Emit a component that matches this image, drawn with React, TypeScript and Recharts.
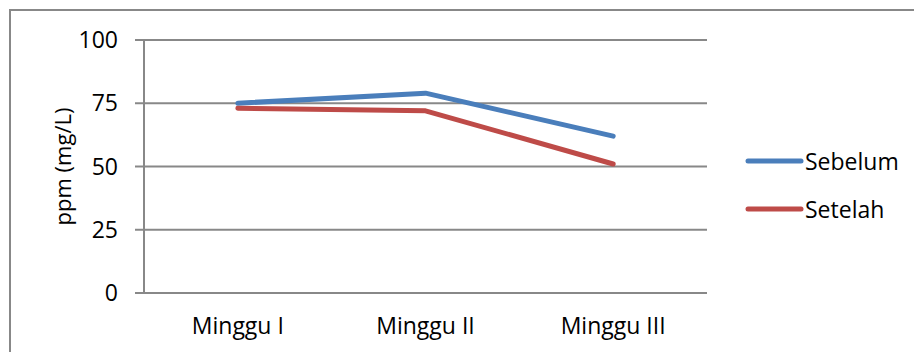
import React from 'react';
import { LineChart, Line, XAxis, YAxis, CartesianGrid, Legend } from 'recharts';

const categories = ['Minggu I', 'Minggu II', 'Minggu III'];
const sebelum = [75, 79, 62];
const setelah = [73, 72, 51];
const yTicks = [0, 25, 50, 75, 100];
const edgeTicks = [0, 1, 2, 3];

const SERIES = [
    { key: 'Sebelum', color: '#4A7EBB', values: sebelum },
    { key: 'Setelah', color: '#BE4B48', values: setelah },
];

const AXIS_GRAY = '#888888';
const FONT = '"Open Sans", sans-serif';
const FONT_SIZE = 23;

// category centres sit halfway between the edge ticks, Excel style
const chartData = categories.map((name, i) => {
    const row: Record<string, number | string> = { pos: i + 0.5, name };
    SERIES.forEach(s => {
        row[s.key] = s.values[i];
    });
    return row;
});

const YTitle: React.FC<any> = ({ viewBox }) => {
    const cy = viewBox.y + viewBox.height / 2;
    return (
        <text
            x={62}
            y={cy}
            transform={`rotate(-90 62 ${cy})`}
            textAnchor="middle"
            dominantBaseline="central"
            fontFamily={FONT}
            fontSize={22}
            fill="#000"
        >
            ppm (mg/L)
        </text>
    );
};

const SideLegend: React.FC<any> = () => (
    <svg width={170} height={80}>
        {SERIES.map((s, i) => (
            <g key={s.key}>
                <line x1={3} x2={56} y1={16 + i * 48} y2={16 + i * 48} stroke={s.color} strokeWidth={5} strokeLinecap="round" />
                <text x={60} y={16 + i * 48} dominantBaseline="central" fontFamily={FONT} fontSize={FONT_SIZE} fill="#000">
                    {s.key}
                </text>
            </g>
        ))}
    </svg>
);

const App: React.FC = () => {
    return (
        <div style={{ position: 'absolute', left: 0, top: 0, width: 914, height: 352, background: '#fff', overflow: 'hidden' }}>
            <div style={{ position: 'absolute', left: 9, top: 9, width: 940, height: 380, border: `2px solid ${AXIS_GRAY}` }} />
            <LineChart width={914} height={352} data={chartData} margin={{ top: 40, right: 207, bottom: 0, left: 0 }}>
                <CartesianGrid vertical={false} stroke={AXIS_GRAY} strokeWidth={2} />
                <XAxis
                    xAxisId="edge"
                    type="number"
                    dataKey="pos"
                    domain={[0, 3]}
                    ticks={edgeTicks}
                    tick={false}
                    height={0}
                    tickSize={8}
                    stroke={AXIS_GRAY}
                    strokeWidth={2}
                />
                <XAxis
                    xAxisId="cat"
                    type="number"
                    dataKey="pos"
                    domain={[0, 3]}
                    ticks={chartData.map(d => d.pos as number)}
                    tickFormatter={(v: number) => categories[Math.floor(v)]}
                    height={59}
                    axisLine={false}
                    tickLine={false}
                    tickSize={0}
                    tickMargin={25}
                    tick={{ fill: '#000', fontSize: FONT_SIZE, fontFamily: FONT }}
                />
                <YAxis
                    domain={[0, 100]}
                    ticks={yTicks}
                    width={144}
                    tickSize={9}
                    tickMargin={17}
                    stroke={AXIS_GRAY}
                    strokeWidth={2}
                    tick={{ fill: '#000', fontSize: FONT_SIZE, fontFamily: FONT }}
                    label={{ content: YTitle }}
                />
                <Legend
                    layout="vertical"
                    align="center"
                    verticalAlign="middle"
                    content={<SideLegend />}
                    wrapperStyle={{ left: 745, top: 145, width: 170, height: 80 }}
                />
                {SERIES.map(s => (
                    <Line
                        key={s.key}
                        xAxisId="cat"
                        type="linear"
                        dataKey={s.key}
                        stroke={s.color}
                        strokeWidth={5}
                        strokeLinecap="round"
                        strokeLinejoin="round"
                        dot={false}
                        isAnimationActive={false}
                    />
                ))}
            </LineChart>
        </div>
    );
};

export default App;
